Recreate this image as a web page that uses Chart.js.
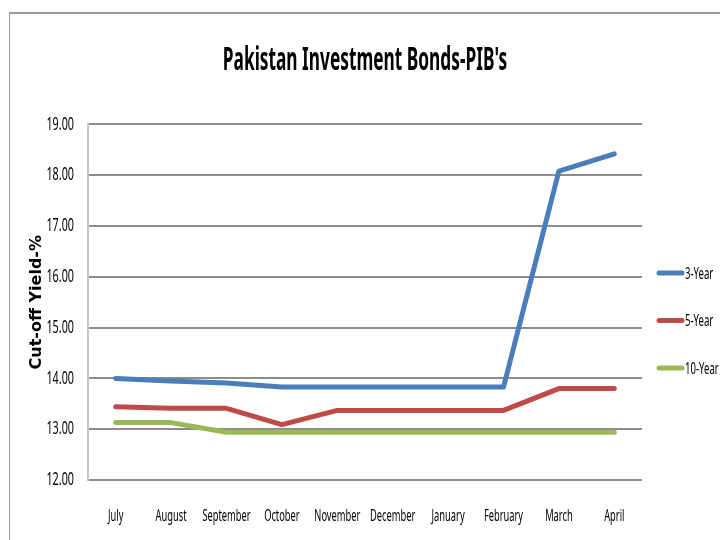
<!DOCTYPE html>
<html>
<head>
<meta charset="utf-8">
<script src="https://cdn.jsdelivr.net/npm/chart.js@4/dist/chart.umd.min.js"></script>
<style>
  html, body { margin: 0; padding: 0; background: #fff; }
  #wrap { position: relative; width: 720px; height: 540px; overflow: hidden; }
  #frame { position: absolute; left: 9px; top: 12px; width: 760px; height: 600px;
           border-left: 1px solid #9a9a9a; border-top: 2px solid #9a9a9a; }
  canvas { position: absolute; left: 0; top: 0; }
</style>
</head>
<body>
<div id="wrap">
  <div id="frame"></div>
  <canvas id="c" width="720" height="540"></canvas>
</div>
<script>
const months = ["July","August","September","October","November","December","January","February","March","April"];
const threeYear = [14.00, 13.95, 13.91, 13.83, 13.83, 13.83, 13.83, 13.83, 18.08, 18.42];
const fiveYear  = [13.44, 13.41, 13.41, 13.09, 13.37, 13.37, 13.37, 13.37, 13.80, 13.80];
const tenYear   = [13.13, 13.13, 12.94, 12.94, 12.94, 12.94, 12.94, 12.94, 12.94, 12.94];
const seriesNames = ["3-Year", "5-Year", "10-Year"];
const titleText = "Pakistan Investment Bonds-PIB's";
const yAxisTitle = "Cut-off Yield-%";

const FAM = '"Noto Sans", sans-serif';
const SQUEEZE = 0.6;
const SQUEEZE_BOLD = 0.54;

// Narrow (condensed-looking) text: squeeze Noto Sans text horizontally about its anchor.
const narrowTextPlugin = {
  id: 'narrowText',
  beforeInit(chart) {
    const ctx = chart.ctx;
    if (ctx.__narrow) return;
    ctx.__narrow = true;
    const orig = CanvasRenderingContext2D.prototype.fillText;
    ctx.fillText = function (t, x, y, mw) {
      if (/Noto/.test(this.font)) {
        const k = /bold|700/.test(this.font) ? SQUEEZE_BOLD : SQUEEZE;
        this.save();
        this.translate(x, y);
        this.scale(k, 1);
        orig.call(this, t, 0, 0);
        this.restore();
      } else {
        orig.call(this, t, x, y, mw);
      }
    };
  }
};

const legendPlugin = {
  id: 'customLegend',
  afterDraw(chart) {
    const ctx = chart.ctx;
    const x0 = 658, y0 = 273, gap = 47.5;
    ctx.save();
    chart.data.datasets.forEach((ds, i) => {
      const y = y0 + i * gap;
      ctx.strokeStyle = ds.borderColor;
      ctx.lineWidth = 5;
      ctx.lineCap = 'round';
      ctx.beginPath();
      ctx.moveTo(x0 + 1, y);
      ctx.lineTo(x0 + 24, y);
      ctx.stroke();
      ctx.fillStyle = '#000';
      ctx.font = '16px ' + FAM;
      ctx.textBaseline = 'middle';
      ctx.textAlign = 'left';
      ctx.fillText(ds.label, x0 + 27, y + 1);
    });
    ctx.restore();
  }
};

new Chart(document.getElementById('c'), {
  type: 'line',
  data: {
    labels: months,
    datasets: [
      { label: seriesNames[0], data: threeYear, borderColor: '#4a7ebb', borderWidth: 5 },
      { label: seriesNames[1], data: fiveYear,  borderColor: '#be4b48', borderWidth: 5 },
      { label: seriesNames[2], data: tenYear,   borderColor: '#98b954', borderWidth: 5 }
    ]
  },
  options: {
    responsive: false,
    animation: false,
    devicePixelRatio: 1,
    layout: { padding: { left: 0, right: 78, top: 0, bottom: 0 } },
    elements: {
      point: { radius: 0, hoverRadius: 0 },
      line: { tension: 0, borderCapStyle: 'round', borderJoinStyle: 'round' }
    },
    plugins: {
      legend: { display: false },
      tooltip: { enabled: false },
      title: {
        display: true,
        fullSize: false,
        text: titleText,
        color: '#000',
        font: { family: FAM, size: 32, weight: 'bold' },
        padding: { top: 42, bottom: 44 }
      }
    },
    scales: {
      x: {
        offset: true,
        grid: { display: false, drawTicks: false },
        border: { display: false },
        ticks: {
          color: '#000',
          font: { family: FAM, size: 15.5 },
          padding: 27,
          maxRotation: 0,
          autoSkip: false
        },
        afterFit(scale) { scale.height = 60; }
      },
      y: {
        min: 12,
        max: 19,
        ticks: {
          stepSize: 1,
          color: '#000',
          font: { family: FAM, size: 18 },
          padding: 14,
          callback: v => Number(v).toFixed(2)
        },
        grid: { color: '#8c8c8c', lineWidth: 2, drawTicks: false },
        border: { display: true, color: '#c4c4c4', width: 2 },
        title: {
          display: true,
          text: yAxisTitle,
          color: '#000',
          font: { family: '"DejaVu Sans", sans-serif', size: 16, weight: 'bold' },
          padding: { top: 27, bottom: 0 }
        },
        afterFit(scale) { scale.width = 88; }
      }
    }
  },
  plugins: [narrowTextPlugin, legendPlugin]
});
</script>
</body>
</html>
